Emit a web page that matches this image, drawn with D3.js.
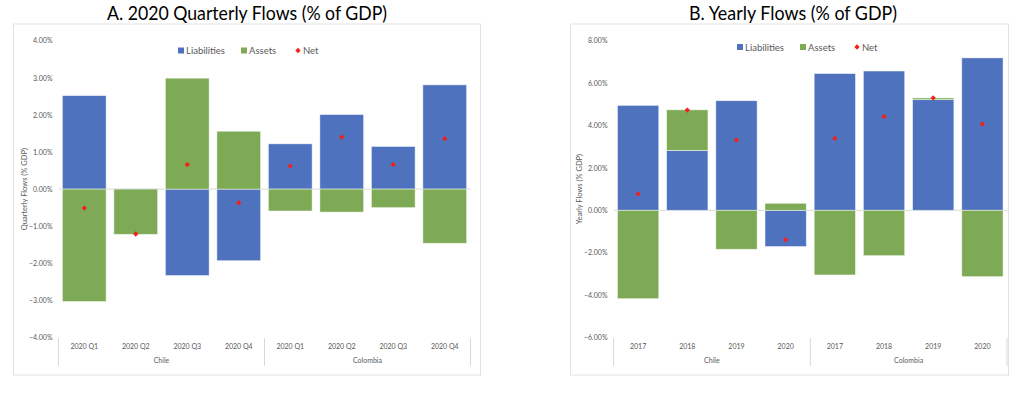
<!DOCTYPE html>
<html>
<head>
<meta charset="utf-8">
<script src="https://cdn.jsdelivr.net/npm/d3@7"></script>
<style>
  body { margin: 0; background: #fff; }
  text { font-family: Lato, "Open Sans", sans-serif; }
</style>
</head>
<body>
<svg id="chart" width="1024" height="404"></svg>
<script>
// ---- data ----
const QUARTERS = ["2020 Q1", "2020 Q2", "2020 Q3", "2020 Q4"];
const YEARS = ["2017", "2018", "2019", "2020"];
const COUNTRIES = ["Chile", "Colombia"];

// quarterly flows, % of GDP (Chile Q1..Q4, Colombia Q1..Q4)
const Q_LIAB = [2.52, 0.01, -2.33, -1.93, 1.22, 2.01, 1.15, 2.81];
const Q_ASSETS = [-3.03, -1.22, 2.99, 1.56, -0.59, -0.62, -0.50, -1.46];
const Q_NET = [-0.51, -1.21, 0.66, -0.37, 0.62, 1.40, 0.66, 1.36];
const Q_TICKS = [-4, -3, -2, -1, 0, 1, 2, 3, 4];

// yearly flows, % of GDP (Chile 2017..2020, Colombia 2017..2020)
const Y_LIAB = [4.95, 2.82, 5.17, -1.71, 6.45, 6.57, 5.22, 7.19];
const Y_ASSETS = [-4.17, 1.92, -1.84, 0.33, -3.05, -2.14, 0.08, -3.13];
const Y_NET = [0.77, 4.73, 3.31, -1.39, 3.39, 4.42, 5.30, 4.06];
const Y_TICKS = [-6, -4, -2, 0, 2, 4, 6, 8];

const BLUE = "#4e72bd";
const GREEN = "#7eaa55";
const RED = "#f2201c";
const GREY_TXT = "#595959";
const GRID = "#d9d9d9";

const svg = d3.select("#chart");

// small red diamond = square turned 45deg
const netSymbol = d3.symbol(d3.symbolSquare, 14);

function drawPanel(p) {
  const g = svg.append("g");

  // outer frame + title
  g.append("rect")
    .attr("x", p.frame[0]).attr("y", 24)
    .attr("width", p.frame[1] - p.frame[0]).attr("height", 351)
    .attr("fill", "#fff").attr("stroke", "#e3e3e3");

  g.append("text")
    .attr("x", p.titleX - p.titleW / 2).attr("y", 20)
    .attr("font-size", 19)
    .attr("textLength", p.titleW)
    .attr("lengthAdjust", "spacingAndGlyphs")
    .attr("fill", "#000")
    .text(p.title);

  // build rows
  let rows = [];
  COUNTRIES.forEach((c, ci) => {
    p.cats.forEach((k, ki) => {
      const i = ci * p.cats.length + ki;
      rows.push({ key: c + "|" + k, cat: k, country: c,
        liab: p.liab[i], assets: p.assets[i], net: p.net[i] });
    });
  });

  const x = d3.scaleBand()
    .domain(rows.map(d => d.key))
    .range(p.xRange)
    .paddingInner(p.pad).paddingOuter(p.pad / 2);

  const y = d3.scaleLinear()
    .domain(d3.extent(p.ticks))
    .range([337.5, 40.7]);

  // y axis labels
  const yAxis = d3.axisLeft(y)
    .tickValues(p.ticks)
    .tickSize(0).tickPadding(0)
    .tickFormat(d => d3.format(".2f")(d) + "%");
  const ya = g.append("g")
    .attr("transform", `translate(${p.xRange[0] - 6},0)`)
    .call(yAxis);
  ya.select(".domain").remove();
  ya.selectAll("text").attr("font-size", 7).attr("fill", GREY_TXT)
    .style("font-family", "Lato, sans-serif");

  const yMid = (y.range()[0] + y.range()[1]) / 2;
  g.append("text")
    .attr("transform", `translate(${p.yTitleX},${yMid}) rotate(-90)`)
    .attr("text-anchor", "middle")
    .attr("dy", "0.35em")
    .attr("font-size", 7.5)
    .attr("fill", GREY_TXT)
    .text(p.yTitle);

  // zero line
  g.append("line")
    .attr("x1", p.xRange[0]).attr("x2", p.xRange[1])
    .attr("y1", y(0)).attr("y2", y(0))
    .attr("stroke", GRID).attr("stroke-width", 1);

  // stacked bars, diverging
  const stack = d3.stack()
    .keys(["liab", "assets"])
    .offset(d3.stackOffsetDiverging);
  const series = stack(rows);
  const colors = { liab: BLUE, assets: GREEN };

  g.selectAll("g.series")
    .data(series)
    .join("g")
      .attr("class", "series")
      .attr("fill", s => colors[s.key])
    .selectAll("rect")
    .data(s => s)
    .join("rect")
      .attr("x", d => x(d.data.key))
      .attr("width", x.bandwidth())
      .attr("y", d => y(Math.max(d[0], d[1])))
      .attr("height", d => Math.abs(y(d[0]) - y(d[1])))
      .attr("stroke", "#ffffff")
      .attr("stroke-opacity", 0.6)
      .attr("stroke-width", 0.8);

  // net markers
  g.selectAll("path.net")
    .data(rows)
    .join("path")
      .attr("class", "net")
      .attr("d", netSymbol)
      .attr("transform", d => `translate(${x(d.key) + x.bandwidth() / 2},${y(d.net)}) rotate(45)`)
      .attr("fill", RED);

  // category axis
  const step = x.step();
  const x0 = p.xRange[0];
  const groupW = step * p.cats.length;
  g.selectAll("line.sep")
    .data(d3.range(COUNTRIES.length + 1))
    .join("line")
      .attr("class", "sep")
      .attr("x1", i => x0 + i * groupW).attr("x2", i => x0 + i * groupW)
      .attr("y1", 338).attr("y2", 366)
      .attr("stroke", GRID);

  g.selectAll("text.cat")
    .data(rows)
    .join("text")
      .attr("class", "cat")
      .attr("x", d => x(d.key) + x.bandwidth() / 2)
      .attr("y", 347)
      .attr("dy", "0.35em")
      .attr("text-anchor", "middle")
      .attr("font-size", 7)
      .attr("fill", GREY_TXT)
      .text(d => d.cat);

  g.selectAll("text.country")
    .data(COUNTRIES)
    .join("text")
      .attr("class", "country")
      .attr("x", (c, i) => x0 + i * groupW + groupW / 2)
      .attr("y", 361)
      .attr("dy", "0.35em")
      .attr("text-anchor", "middle")
      .attr("font-size", 7)
      .attr("fill", GREY_TXT)
      .text(c => c);

  // legend
  const leg = g.append("g").attr("transform", `translate(${p.legendX},${p.legendY})`);
  const items = [
    { name: "Liabilities", color: BLUE, type: "sq", dx: 0 },
    { name: "Assets", color: GREEN, type: "sq", dx: 63 },
    { name: "Net", color: RED, type: "dia", dx: 117 }
  ];
  items.forEach(it => {
    const li = leg.append("g").attr("transform", `translate(${it.dx},0)`);
    if (it.type === "sq") {
      li.append("rect").attr("x", 0).attr("y", -3.5).attr("width", 6).attr("height", 6)
        .attr("fill", it.color);
    } else {
      li.append("path").attr("d", netSymbol)
        .attr("transform", "translate(3,-0.5) rotate(45)").attr("fill", it.color);
    }
    li.append("text").attr("x", 8).attr("y", 0).attr("dy", "0.35em")
      .attr("font-size", 9.5).attr("fill", GREY_TXT).text(it.name);
  });
}

drawPanel({
  title: "A. 2020 Quarterly Flows (% of GDP)",
  titleX: 247, titleW: 280,
  frame: [13.5, 480.5],
  xRange: [58.5, 470.5],
  pad: 0.15,
  cats: QUARTERS,
  liab: Q_LIAB, assets: Q_ASSETS, net: Q_NET,
  ticks: Q_TICKS,
  yTitle: "Quarterly Flows (% GDP)",
  yTitleX: 24,
  legendX: 178, legendY: 51
});

drawPanel({
  title: "B. Yearly Flows (% of GDP)",
  titleX: 793, titleW: 208,
  frame: [570.5, 1008.5],
  xRange: [613.5, 1007],
  pad: 0.16,
  cats: YEARS,
  liab: Y_LIAB, assets: Y_ASSETS, net: Y_NET,
  ticks: Y_TICKS,
  yTitle: "Yearly Flows (% GDP)",
  yTitleX: 579,
  legendX: 737, legendY: 47.5
});
</script>
</body>
</html>
